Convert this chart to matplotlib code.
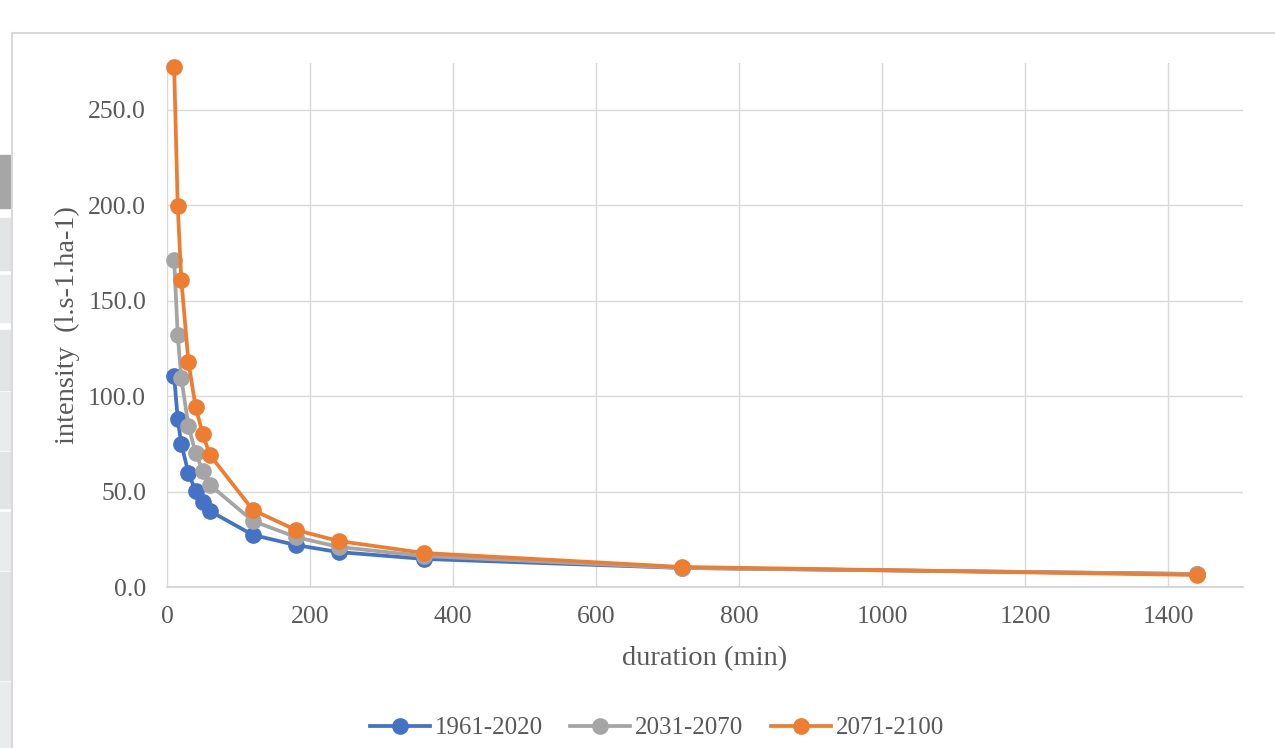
import matplotlib
matplotlib.use("Agg")
import matplotlib.pyplot as plt
from matplotlib.patches import Rectangle

duration = [10, 15, 20, 30, 40, 50, 60, 120, 180, 240, 360, 720, 1440]
i_1961_2020 = [110.6, 88.0, 75.0, 59.7, 50.3, 44.5, 39.8, 27.3, 22.0, 18.3, 14.7, 10.0, 6.8]
i_2031_2070 = [171.4, 132.0, 109.5, 84.4, 70.2, 60.8, 53.5, 34.6, 26.2, 21.0, 16.2, 10.0, 6.8]
i_2071_2100 = [272.5, 199.7, 161.0, 118.0, 94.3, 80.2, 69.2, 40.4, 29.9, 24.1, 17.8, 10.5, 6.3]
labels = ["1961-2020", "2031-2070", "2071-2100"]
colors = ["#4472C4", "#A5A5A5", "#ED7D31"]

plt.rcParams["font.family"] = ["Liberation Serif", "DejaVu Serif"]

W, H = 1275, 748
fig = plt.figure(figsize=(W / 100, H / 100), dpi=100)

# spreadsheet cells peeking out on the left
cells = [(155, 208, "#a6a6a6"), (218, 270, "#e3e4e6"), (275, 322, "#eaebec"),
         (330, 390, "#e3e4e6"), (392, 450, "#eaebec"), (452, 508, "#e3e4e6"),
         (512, 570, "#eaebec"), (572, 680, "#e3e4e6"), (682, 748, "#eaebec")]
for top, bot, c in cells:
    fig.patches.append(Rectangle((0, 1 - bot / H), 10 / W, (bot - top) / H,
                                 transform=fig.transFigure, color=c, zorder=0))
# chart border
fig.patches.append(Rectangle((12 / W, -0.1), 1.2, 1.1 - 33 / H, transform=fig.transFigure,
                             fill=False, edgecolor="#d9d9d9", linewidth=1.5, zorder=1))

ax = fig.add_axes([167 / W, (H - 587) / H, 1076 / W, 524 / H])
for y, lab, c in zip([i_1961_2020, i_2031_2070, i_2071_2100], labels, colors):
    ax.plot(duration, y, color=c, linewidth=2.7, marker="o", markersize=11, label=lab,
            clip_on=False, zorder=3)

ax.set_xlim(0, 1505)
ax.set_ylim(0, 274.6)
ax.set_xticks(range(0, 1401, 200))
ax.set_yticks([0, 50, 100, 150, 200, 250])
ax.set_yticklabels([f"{v:.1f}" for v in [0, 50, 100, 150, 200, 250]])
ax.grid(True, color="#d9d9d9", linewidth=1.0)
ax.set_axisbelow(True)
for s in ["top", "right", "left"]:
    ax.spines[s].set_visible(False)
ax.spines["bottom"].set_color("#d0d0d0")
ax.spines["bottom"].set_linewidth(1.2)
ax.tick_params(length=0, labelsize=18.5, labelcolor="#595959")
ax.tick_params(axis="y", pad=15)
ax.tick_params(axis="x", pad=14)

ax.set_xlabel("duration (min)", fontsize=20.5, color="#595959", labelpad=13)
ax.set_ylabel("intensity  (l.s-1.ha-1)", fontsize=20.5, color="#595959", labelpad=6)

fig.legend(loc="center", bbox_to_anchor=(657 / W, 1 - 728 / H), ncol=3, frameon=False,
           fontsize=18, labelcolor="#595959", handlelength=2.4, columnspacing=1.1,
           handletextpad=0.2)

fig.savefig("out.png", dpi=100, facecolor="white")
